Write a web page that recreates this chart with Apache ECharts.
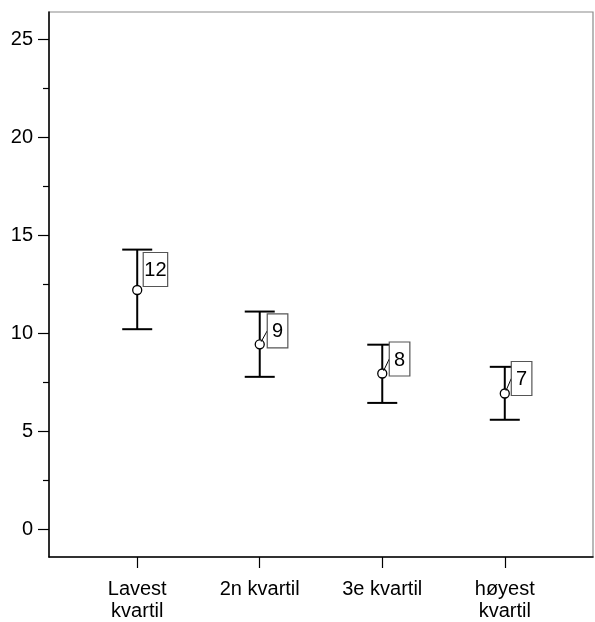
<!DOCTYPE html>
<html>
<head>
<meta charset="utf-8">
<script src="https://cdn.jsdelivr.net/npm/echarts@6/dist/echarts.min.js"></script>
<style>
  html, body { margin: 0; padding: 0; background: #ffffff; }
  #chart { width: 595px; height: 622px; }
</style>
</head>
<body>
<div id="chart"></div>
<script>
// Quartile groups and their mean with error bar limits
const categories = ['Lavest\nkvartil', '2n kvartil', '3e kvartil', 'høyest\nkvartil'];
const means = [12.22, 9.45, 7.96, 6.94];
const lower = [10.22, 7.79, 6.46, 5.60];
const upper = [14.28, 11.12, 9.43, 8.30];
const yTicks = [0, 5, 10, 15, 20, 25];
const yMinorTicks = [2.5, 7.5, 12.5, 17.5, 22.5];

// Placement of each value box relative to its mean marker (pixels)
const boxOffset = [[6, -3.5], [7.5, 3.5], [7, 2.5], [6.5, 2]];
const showLeader = [false, true, true, true];

const FONT = 'Liberation Sans, Arial, Helvetica, sans-serif';

const rows = categories.map((c, i) => [i, means[i], lower[i], upper[i]]);

function renderItem(params, api) {
  const i = params.dataIndex;
  const x = api.value(0);
  const m = api.coord([x, api.value(1)]);
  const lo = api.coord([x, api.value(2)]);
  const hi = api.coord([x, api.value(3)]);
  const cap = 15;
  const r = 4.5;
  const stroke = { stroke: '#000', lineWidth: 2 };
  const children = [
    { type: 'line', shape: { x1: m[0], y1: hi[1], x2: m[0], y2: lo[1] }, style: stroke },
    { type: 'line', shape: { x1: m[0] - cap, y1: hi[1], x2: m[0] + cap, y2: hi[1] }, style: stroke },
    { type: 'line', shape: { x1: m[0] - cap, y1: lo[1], x2: m[0] + cap, y2: lo[1] }, style: stroke },
    { type: 'circle', shape: { cx: m[0], cy: m[1], r: r }, style: { fill: '#fff', stroke: '#000', lineWidth: 1.3 } }
  ];
  const txt = String(Math.round(api.value(1)));
  const bw = Math.max(20.6, txt.length * 11.12 + 2.2);
  const bh = 34;
  const bx = m[0] + boxOffset[i][0];
  const by = m[1] + boxOffset[i][1] - bh;
  if (showLeader[i]) {
    const ex = bx, ey = by + bh / 2;
    const dx = ex - m[0], dy = ey - m[1];
    const len = Math.sqrt(dx * dx + dy * dy);
    children.push({
      type: 'line',
      shape: { x1: m[0] + dx / len * (r - 1.5), y1: m[1] + dy / len * (r - 1.5), x2: ex, y2: ey },
      style: { stroke: '#000', lineWidth: 1 }
    });
  }
  children.push({
    type: 'rect',
    shape: { x: bx, y: by, width: bw, height: bh },
    style: { fill: '#fff', stroke: '#555', lineWidth: 1.2 }
  });
  children.push({
    type: 'text',
    style: {
      text: txt, x: bx + bw / 2, y: by + bh / 2 + 1,
      align: 'center', verticalAlign: 'middle',
      fill: '#000', font: '20px ' + FONT
    }
  });
  return { type: 'group', children: children };
}

const chart = echarts.init(document.getElementById('chart'), null, { renderer: 'canvas' });
chart.setOption({
  animation: false,
  backgroundColor: '#ffffff',
  grid: {
    left: 49, top: 12, right: 2, bottom: 62,
    show: true, borderColor: '#8a8a8a', borderWidth: 1.2, backgroundColor: 'transparent'
  },
  xAxis: {
    type: 'value',
    min: -0.72, max: 3.72,
    axisLine: { show: true, onZero: false, lineStyle: { color: '#000', width: 1.5 } },
    axisTick: { show: true, customValues: [0, 1, 2, 3], length: 11, lineStyle: { color: '#000', width: 1.2 } },
    axisLabel: {
      customValues: [0, 1, 2, 3],
      formatter: v => categories[Math.round(v)],
      color: '#000', fontSize: 20, lineHeight: 22, fontFamily: FONT, margin: 21
    },
    splitLine: { show: false }
  },
  yAxis: [
    {
      type: 'value',
      min: -1.4, max: 26.4,
      axisLine: { show: true, onZero: false, lineStyle: { color: '#000', width: 1.5 } },
      axisTick: { show: true, customValues: yTicks, length: 11, lineStyle: { color: '#000', width: 1.2 } },
      axisLabel: { customValues: yTicks, color: '#000', fontSize: 20, fontFamily: FONT, margin: 16 },
      splitLine: { show: false }
    },
    {
      type: 'value',
      position: 'left',
      offset: 0,
      min: -1.4, max: 26.4,
      axisLine: { show: false, onZero: false },
      axisTick: { show: true, customValues: yMinorTicks, length: 6, lineStyle: { color: '#000', width: 1.2 } },
      axisLabel: { show: false },
      splitLine: { show: false }
    }
  ],
  series: [{
    type: 'custom',
    renderItem: renderItem,
    encode: { x: 0, y: [1, 2, 3] },
    data: rows,
    clip: false
  }]
});
</script>
</body>
</html>
